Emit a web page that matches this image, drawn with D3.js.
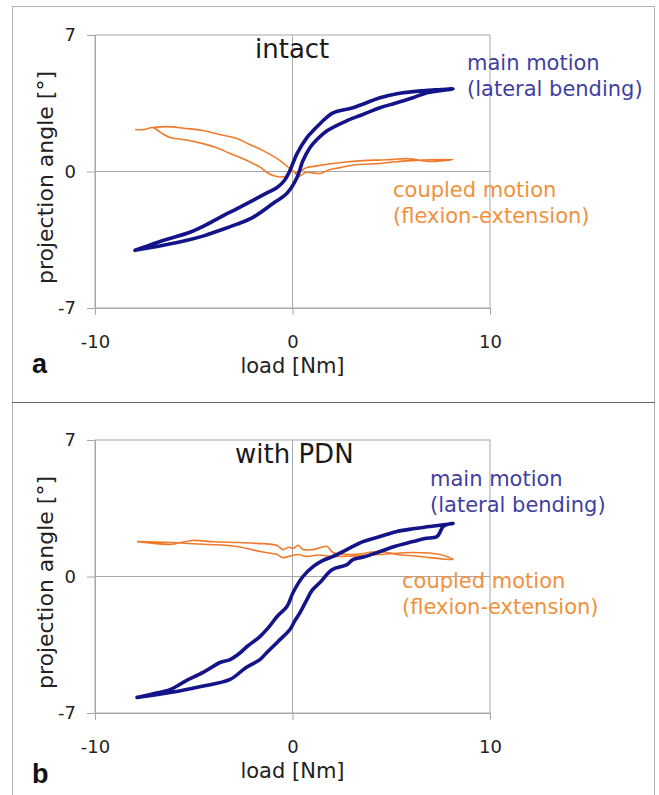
<!DOCTYPE html>
<html>
<head>
<meta charset="utf-8">
<script src="https://cdn.jsdelivr.net/npm/d3@7"></script>
<style>
    body { margin: 0; background: #fff; }
    svg { display: block; }
    text { font-family: "DejaVu Sans", Verdana, sans-serif; }
</style>
</head>
<body>
<div id="chart"></div>
<script>
// == Daten ==
// Achsen
const X_TICKS = [-10, 0, 10];
const Y_TICKS = [-7, 0, 7];

// a) intact: Hauptbewegung (lateral bending), Schleife [load, angle]
const intactMain = [
    [-7.97, -4.04], [-7.3, -3.8], [-6.6, -3.55], [-5.34, -3.17], [-4.5, -2.8], [-3.67, -2.35],
    [-2.8, -1.9], [-2.0, -1.48], [-1.3, -1.1], [-0.78, -0.82], [-0.4, -0.45], [-0.13, 0.05],
    [0.23, 0.92], [0.73, 1.74], [1.1, 2.15], [1.39, 2.45], [2.05, 3.01], [3.06, 3.27],
    [4.43, 3.78], [5.29, 3.99], [6.6, 4.14], [7.5, 4.2], [8.13, 4.24],
    [6.81, 4.04], [6.1, 3.78], [5.2, 3.5], [4.43, 3.27], [3.5, 2.9], [2.76, 2.61], [1.75, 2.09],
    [1.2, 1.6], [0.89, 1.23], [0.53, 0.56], [0.23, -0.31], [-0.28, -1.12], [-0.99, -1.64],
    [-2.0, -2.35], [-2.8, -2.7], [-3.67, -3.01], [-4.5, -3.3], [-5.34, -3.53], [-6.6, -3.8],
    [-7.97, -4.04]
];
// a) intact: gekoppelte Bewegung (flexion-extension)
const intactCoupled = [
    [-7.97, 2.15], [-7.5, 2.15], [-7.06, 2.25], [-6.6, 1.95], [-6.2, 1.74], [-5.3, 1.6],
    [-4.53, 1.43], [-3.8, 1.2], [-3.16, 0.92], [-2.5, 0.65], [-2.0, 0.41], [-1.6, 0.2],
    [-1.29, -0.05], [-0.99, -0.2], [-0.38, -0.26], [0, 0.05], [0.3, -0.26], [0.66, -0.05],
    [1.39, -0.1], [1.9, 0.1], [2.4, 0.2], [3.2, 0.35], [4.43, 0.41], [5.2, 0.5], [6.1, 0.56],
    [7.0, 0.6], [8.13, 0.61],
    [6.96, 0.51], [5.8, 0.66], [4.8, 0.6], [3.57, 0.56], [2.8, 0.5], [2.05, 0.41], [1.3, 0.3],
    [0.73, 0.2], [0.18, -0.05], [-0.13, 0.15], [-0.63, 0.56], [-1.49, 1.07], [-2.2, 1.4],
    [-2.81, 1.69], [-3.7, 1.9], [-4.53, 2.1], [-5.5, 2.22], [-6.35, 2.3], [-7.06, 2.25]
];

// b) with PDN: Hauptbewegung
const pdnMain = [
    [-7.87, -6.2], [-7.0, -6.0], [-6.2, -5.8], [-5.4, -5.35], [-4.53, -4.92], [-3.67, -4.41],
    [-3.16, -4.26], [-2.7, -3.95], [-2.3, -3.59], [-1.65, -3.08], [-1.2, -2.6], [-0.78, -2.05],
    [-0.28, -1.54], [0.03, -0.82], [0.53, 0], [1.04, 0.51], [1.5, 0.8], [2.05, 1.03],
    [3.06, 1.54], [3.57, 1.79], [4.43, 2.05], [5.29, 2.31], [6.1, 2.45], [6.96, 2.56],
    [8.13, 2.72],
    [7.82, 2.67], [7.62, 2.56], [7.32, 2.05], [6.7, 1.95], [6.1, 1.79], [5.2, 1.55],
    [4.43, 1.28], [3.6, 1.0], [3.06, 0.87], [2.76, 0.61], [2.0, 0.35], [1.39, -0.31],
    [1.0, -0.7], [0.73, -1.18], [0.38, -1.85], [0.1, -2.3], [-0.13, -2.72], [-0.78, -3.38],
    [-1.3, -3.9], [-1.65, -4.26], [-2.4, -4.7], [-3.16, -5.28], [-4.7, -5.65], [-6.2, -5.95],
    [-7.87, -6.2]
];
// b) with PDN: gekoppelte Bewegung
const pdnCoupled = [
    [-7.87, 1.79], [-7.0, 1.7], [-6.2, 1.64], [-5.05, 1.85], [-4.0, 1.78], [-2.81, 1.74],
    [-1.8, 1.7], [-0.78, 1.59], [-0.48, 1.38], [-0.2, 1.5], [0.03, 1.44], [0.3, 1.6],
    [0.53, 1.38], [1.04, 1.38], [1.75, 1.54], [2.05, 1.23], [3.06, 1.13], [4.43, 1.28],
    [5.29, 1.13], [6.2, 1.05], [6.96, 0.97], [8.13, 0.87],
    [7.47, 1.13], [6.1, 1.23], [4.43, 1.13], [3.2, 1.05], [2.05, 1.03], [1.3, 1.1],
    [0.73, 1.03], [0.23, 1.13], [-0.48, 0.97], [-0.78, 1.13], [-1.65, 1.28], [-2.81, 1.54],
    [-4.5, 1.65], [-6.2, 1.74], [-7.87, 1.79]
];

// == Konstanten ==
const WIDTH = 659;
const HEIGHT = 795;
const MAIN_COLOR = '#14148a';
const COUPLED_COLOR = '#f07a2c';
const MAIN_TEXT = '#3f3f9f';
const COUPLED_TEXT = '#f0913e';

const svg = d3.select('#chart').append('svg')
    .attr('width', WIDTH)
    .attr('height', HEIGHT);

// Rahmen um beide Teilbilder
svg.append('rect')
    .attr('x', 12.5).attr('y', 6.5)
    .attr('width', 642).attr('height', 800)
    .attr('fill', 'none')
    .attr('stroke', '#b4b4b4');
svg.append('line')
    .attr('x1', 12).attr('x2', 655)
    .attr('y1', 402.5).attr('y2', 402.5)
    .attr('stroke', '#666');

/**
 * Zeichnet ein Teilbild (a oder b)
 * @param p Einstellungen: Daten, Position, Beschriftung
 */
function drawPanel(p) {
    const g = svg.append('g');

    const x = d3.scaleLinear().domain([-10, 10]).range([95, 490]);
    const y = d3.scaleLinear().domain([-7, 7]).range([p.bottom, p.top]);

    // Rahmen des Plotbereichs
    g.append('rect')
        .attr('x', x(-10)).attr('y', y(7))
        .attr('width', x(10) - x(-10)).attr('height', y(-7) - y(7))
        .attr('fill', 'none')
        .attr('stroke', '#a8a8a8');

    // Nulllinien
    g.append('line')
        .attr('x1', x(0)).attr('x2', x(0))
        .attr('y1', y(7)).attr('y2', y(-7))
        .attr('stroke', '#a8a8a8');
    g.append('line')
        .attr('x1', x(-10)).attr('x2', x(10))
        .attr('y1', y(0)).attr('y2', y(0))
        .attr('stroke', '#a8a8a8');

    // Achsen (Minus als einfacher Bindestrich wie im Original)
    const xAxis = g.append('g')
        .attr('transform', `translate(0,${y(-7)})`)
        .call(d3.axisBottom(x).tickValues(X_TICKS).tickFormat(d => String(d))
            .tickSize(7).tickPadding(20));
    const yAxis = g.append('g')
        .attr('transform', `translate(${x(-10)},0)`)
        .call(d3.axisLeft(y).tickValues(Y_TICKS).tickFormat(d => String(d))
            .tickSize(8).tickPadding(11));
    [xAxis, yAxis].forEach(a => {
        a.select('.domain').attr('stroke', '#a8a8a8');
        a.selectAll('.tick line').attr('stroke', '#a8a8a8');
        a.selectAll('.tick text')
            .attr('fill', '#222')
            .style('font-size', '18px')
            .style('font-family', '"DejaVu Sans", Verdana, sans-serif');
    });

    // Achsentitel
    g.append('text')
        .attr('x', x(0)).attr('y', y(-7) + 65)
        .attr('text-anchor', 'middle')
        .attr('fill', '#222')
        .style('font-size', '21px')
        .text('load [Nm]');
    g.append('text')
        .attr('transform', `translate(53,${(y(7) + y(-7)) / 2 + 6}) rotate(-90)`)
        .attr('text-anchor', 'middle')
        .attr('fill', '#222')
        .style('font-size', '22px')
        .text('projection angle [°]');

    // Kurven
    const line = d3.line()
        .x(d => x(d[0]))
        .y(d => y(d[1]))
        .curve(d3.curveCatmullRom.alpha(0.5));
    g.append('path')
        .datum(p.coupled)
        .attr('d', line)
        .attr('fill', 'none')
        .attr('stroke', COUPLED_COLOR)
        .attr('stroke-width', 1.6)
        .attr('stroke-linejoin', 'round');
    g.append('path')
        .datum(p.main)
        .attr('d', line)
        .attr('fill', 'none')
        .attr('stroke', MAIN_COLOR)
        .attr('stroke-width', 3.6)
        .attr('stroke-linejoin', 'round')
        .attr('stroke-linecap', 'round');

    // Titel im Plot
    g.append('text')
        .attr('x', p.title.x).attr('y', p.title.y)
        .attr('fill', '#1a1a1a')
        .style('font-size', '26px')
        .text(p.title.text);

    // Beschriftung der Kurven
    const labels = [
        {lines: ['main motion', '(lateral bending)'], color: MAIN_TEXT, pos: p.mainLabel},
        {lines: ['coupled motion', '(flexion-extension)'], color: COUPLED_TEXT, pos: p.coupledLabel}
    ];
    for (let lab of labels) {
        const t = g.append('text')
            .attr('fill', lab.color)
            .style('font-size', '21px');
        lab.lines.forEach((s, i) => {
            t.append('tspan')
                .attr('x', lab.pos[0])
                .attr('y', lab.pos[1] + i * 26)
                .text(s);
        });
    }

    // Buchstabe des Teilbilds
    g.append('text')
        .attr('x', 32).attr('y', p.letterY)
        .attr('fill', '#111')
        .style('font-family', '"Liberation Sans", Arial, sans-serif')
        .style('font-weight', 'bold')
        .style('font-size', '27px')
        .text(p.letter);
}

drawPanel({
    top: 35, bottom: 308,
    main: intactMain, coupled: intactCoupled,
    title: {text: 'intact', x: 255, y: 58},
    mainLabel: [467, 70],
    coupledLabel: [393, 197],
    letter: 'a', letterY: 373
});

drawPanel({
    top: 440, bottom: 713,
    main: pdnMain, coupled: pdnCoupled,
    title: {text: 'with PDN', x: 235, y: 463},
    mainLabel: [430, 486],
    coupledLabel: [402, 588],
    letter: 'b', letterY: 783
});
</script>
</body>
</html>
